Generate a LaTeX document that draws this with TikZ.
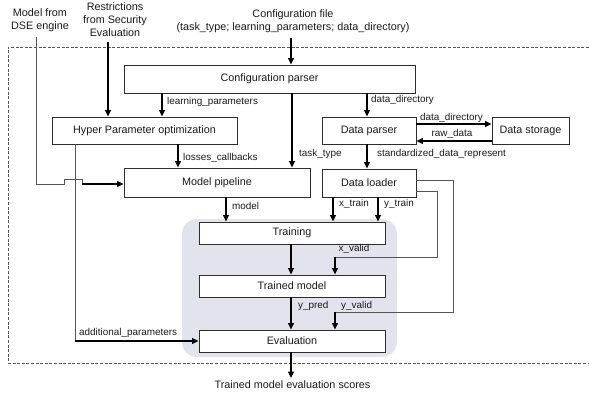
\documentclass[tikz,border=0pt]{standalone}
\usepackage{fontspec}
\setmainfont{Liberation Sans}
\usetikzlibrary{arrows.meta,calc}
\definecolor{panel}{RGB}{225,228,236}
\definecolor{edge}{RGB}{45,45,45}
\definecolor{ink}{RGB}{25,25,25}
\definecolor{wirec}{RGB}{85,85,85}
\begin{document}
\begin{tikzpicture}[x=1pt,y=-1pt,
  every node/.style={text=ink},
  box/.style={draw=edge,line width=0.9pt,fill=white,inner sep=0pt,
    font=\fontsize{10.8}{13}\selectfont},
  lbl/.style={inner sep=0pt,font=\fontsize{9.9}{11}\selectfont},
  outer/.style={inner sep=0pt,outer sep=5pt,align=center,
    font=\fontsize{10.8}{13}\selectfont},
  arr/.style={draw=black,line width=1.3pt,-{Triangle[length=6.5pt,width=6pt]}},
  wire/.style={draw=wirec,line width=0.8pt},
  frame/.style={draw=wirec,line width=0.8pt,dash pattern=on 3pt off 1.6pt}
]
\useasboundingbox (0,0) rectangle (589,393);

% shaded training area
\fill[panel,rounded corners=15pt] (182,219) rectangle (397,357);

% dashed system boundary (open to the right)
\draw[frame] (589,47) -- (8,47) -- (8,363) -- (589,363);

% inputs and output texts
\node[outer] (dse) at (40,20.5) {Model from\\DSE engine};
\node[outer] (sec) at (115,20) {Restrictions\\from Security\\Evaluation};
\node[outer] (cfgfile) at (293,21) {Configuration file\\(task\_type; learning\_parameters; data\_directory)};
\node[outer,outer sep=3pt] (out) at (292.5,385) {Trained model evaluation scores};

% blocks
\node[box,minimum width=291pt,minimum height=28pt] (cfg) at (269.5,79) {Configuration parser};
\node[box,minimum width=185pt,minimum height=27pt] (hpo) at (144.5,130.5) {Hyper Parameter optimization};
\node[box,minimum width=94pt,minimum height=27pt] (dp) at (369,130.5) {Data parser};
\node[box,minimum width=77pt,minimum height=27pt] (ds) at (530.5,130.5) {Data storage};
\node[box,minimum width=186pt,minimum height=29pt] (mp) at (217,182.5) {Model pipeline};
\node[box,minimum width=94pt,minimum height=28pt] (dl) at (369,183) {Data loader};
\node[box,minimum width=186pt,minimum height=22pt] (tr) at (292,233) {Training};
\node[box,minimum width=186pt,minimum height=22pt] (tm) at (292,286) {Trained model};
\node[box,minimum width=186pt,minimum height=22pt] (ev) at (292,341) {Evaluation};

% connector columns and rows
\coordinate (xcfg) at (291,0);
\coordinate (xsec) at (108,0);
\coordinate (xdse) at (36,0);
\coordinate (xlp) at (162,0);
\coordinate (xtask) at (292,0);
\coordinate (xdd) at (367,0);
\coordinate (xlc) at (178,0);
\coordinate (xmod) at (226,0);
\coordinate (xxt) at (333,0);
\coordinate (xyt) at (378,0);
\coordinate (xmain) at (291,0);
\coordinate (xadd) at (75,0);
\coordinate (ydd) at (0,124);
\coordinate (yraw) at (0,141);

% straight arrows
\draw[arr] (cfgfile.south -| xcfg) -- (cfg.north -| xcfg);
\draw[arr] (sec.south -| xsec) -- (hpo.north -| xsec);
\draw[arr] (cfg.south -| xlp) -- (hpo.north -| xlp);
\draw[arr] (cfg.south -| xtask) -- (mp.north -| xtask);
\draw[arr] (cfg.south -| xdd) -- (dp.north -| xdd);
\draw[arr] (hpo.south -| xlc) -- (mp.north -| xlc);
\draw[arr] (dp.east |- ydd) -- (ds.west |- ydd);
\draw[arr] (ds.west |- yraw) -- (dp.east |- yraw);
\draw[arr] (dp.south -| xdd) -- (dl.north -| xdd);
\draw[arr] (mp.south -| xmod) -- (tr.north -| xmod);
\draw[arr] (dl.south -| xxt) -- (tr.north -| xxt);
\draw[arr] (dl.south -| xyt) -- (tr.north -| xyt);
\draw[arr] (tr.south -| xmain) -- (tm.north -| xmain);
\draw[arr] (tm.south -| xmain) -- (ev.north -| xmain);
\draw[arr] (ev.south -| xmain) -- (out.north -| xmain);

% model from the DSE engine, hopping over the additional-parameters line
\coordinate (j1) at (64,184);
\coordinate (j2) at (82,184);
\draw[wire] (dse.south -| xdse) |- (j1) -- ++(0,-5) -- ($(j2)+(0,-5)$) -- (j2);
\draw[arr] (j2) -- (j2 -| mp.west);

% additional parameters to evaluation
\coordinate (ap) at (75,341);
\draw[wire] (hpo.south -| xadd) -- (ap);
\draw[arr] (ap) -- (ap -| ev.west);

% validation data from the data loader
\coordinate (xv1) at (437,191);
\coordinate (xv2) at (335,257);
\draw[wire] (dl.east |- xv1) -| (xv1 |- xv2) -- (xv2);
\draw[arr] (xv2) -- (tm.north -| xv2);
\coordinate (yv1) at (453,180);
\coordinate (yv2) at (335,312);
\draw[wire] (dl.east |- yv1) -| (yv1 |- yv2) -- (yv2);
\draw[arr] (yv2) -- (ev.north -| yv2);

% connector labels
\node[lbl,anchor=west] (l1) at (167,102) {learning\_parameters};
\node[lbl,anchor=west] (l2) at (371,100) {data\_directory};
\node[lbl,anchor=west] (l3) at (420,117.5) {data\_directory};
\node[lbl] (l4) at (452,134) {raw\_data};
\node[lbl,anchor=west] (l5) at (183,158) {losses\_callbacks};
\node[lbl,anchor=west] (l6) at (299,154) {task\_type};
\node[lbl,anchor=west] (l7) at (377,154) {standardized\_data\_represent};
\node[lbl,anchor=west] (l8) at (232,206) {model};
\node[lbl,anchor=west] (l9) at (339,204) {x\_train};
\node[lbl,anchor=west] (l10) at (384,204) {y\_train};
\node[lbl] (l11) at (354,249) {x\_valid};
\node[lbl,anchor=west] (l12) at (298,306) {y\_pred};
\node[lbl,anchor=west] (l13) at (341,306) {y\_valid};
\node[lbl,anchor=west] (l14) at (79,333) {additional\_parameters};
\end{tikzpicture}
\end{document}
